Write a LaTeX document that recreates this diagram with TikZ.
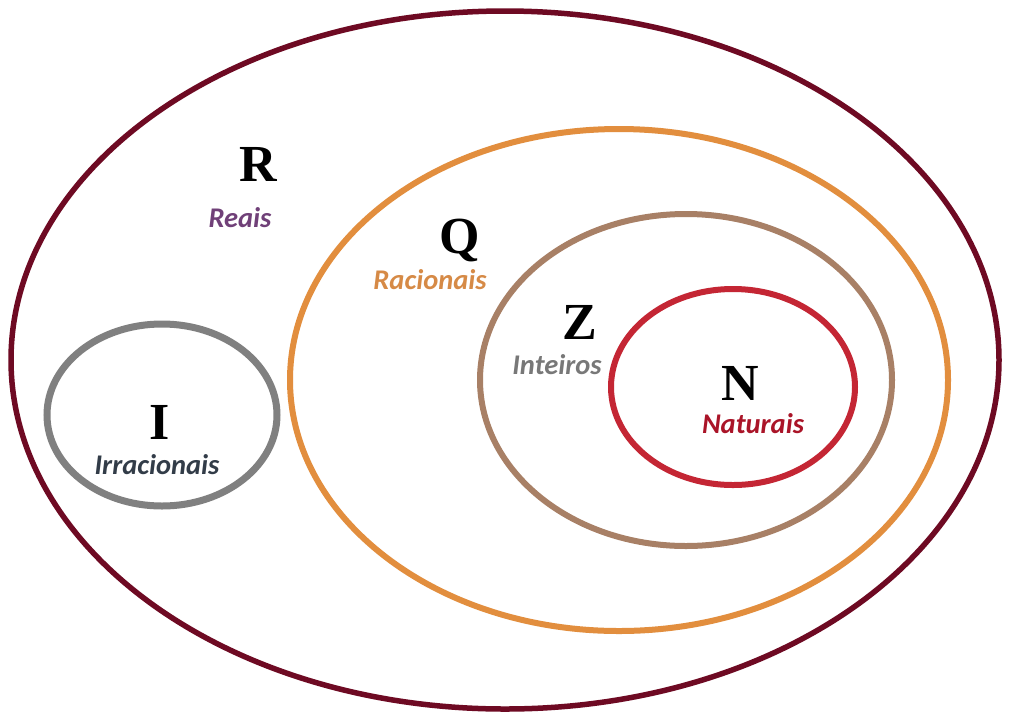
\documentclass[tikz,border=0pt]{standalone}
\usepackage{fontspec}
\setmainfont{Liberation Serif}
\newfontfamily\lab{Carlito}
\definecolor{cR}{RGB}{110,10,35}
\definecolor{cQ}{RGB}{226,142,62}
\definecolor{cZ}{RGB}{168,128,102}
\definecolor{cN}{RGB}{196,38,52}
\definecolor{cI}{RGB}{128,128,128}
\definecolor{tR}{RGB}{112,64,120}
\definecolor{tQ}{RGB}{214,138,70}
\definecolor{tZ}{RGB}{120,120,120}
\definecolor{tN}{RGB}{170,20,40}
\definecolor{tI}{RGB}{50,60,72}
\tikzset{
  setline/.style={line width=#1},
  letter/.style={font=\fontsize{52}{52}\selectfont\bfseries, inner sep=0pt},
  lbl/.style={font=\lab\fontsize{28.5}{28.5}\selectfont\bfseries\itshape, inner sep=0pt},
}
\begin{document}
\begin{tikzpicture}[x=1pt,y=-1pt]
\useasboundingbox (0,0) rectangle (1009,716);
\fill[white] (0,0) rectangle (1009,716);
\draw[cR, setline=5.5] (505,360) ellipse [x radius=494, y radius=349];
\draw[cQ, setline=6] (619,380) ellipse [x radius=329, y radius=251];
\draw[cZ, setline=6] (686,380) ellipse [x radius=206, y radius=166];
\draw[cN, setline=6] (733,387) ellipse [x radius=122, y radius=98];
\draw[cI, setline=7] (162,415) ellipse [x radius=115, y radius=91];
\node[letter] (R) at (258,164) {R};
\node[lbl, text=tR] (Reais) at (240,218) {Reais};
\node[letter] (Q) at (460,240) {Q};
\node[lbl, text=tQ] (Racionais) at (430,280) {Racionais};
\node[letter] (Z) at (580,322) {Z};
\node[lbl, text=tZ] (Inteiros) at (557,365) {Inteiros};
\node[letter] (N) at (740,383) {N};
\node[lbl, text=tN] (Naturais) at (753,424) {Naturais};
\node[letter] (I) at (160,422) {I};
\node[lbl, text=tI] (Irracionais) at (157,465) {Irracionais};
\end{tikzpicture}
\end{document}
